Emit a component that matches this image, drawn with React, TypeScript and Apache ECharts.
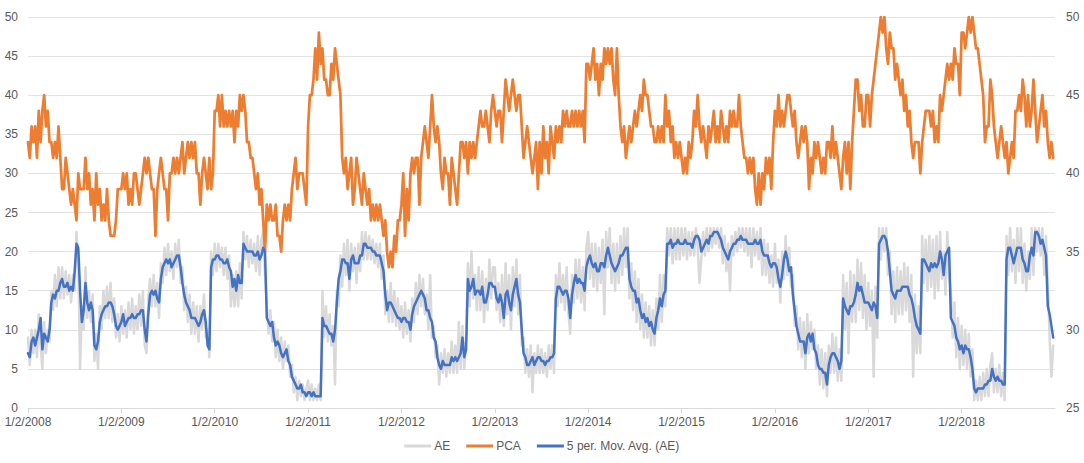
import React, { useEffect, useRef } from "react";
import * as echarts from "echarts";

// x tick labels (one per year, first trading day)
const xTickLabels = [
  "1/2/2008", "1/2/2009", "1/2/2010", "1/2/2011", "1/2/2012", "1/2/2013",
  "1/2/2014", "1/2/2015", "1/2/2016", "1/2/2017", "1/2/2018",
];

// AE (left axis), weekly readings per year
const ae2008 = [9,5.5,10,7,10,6.5,12,8,5,11,7,10,8.5,15,12.5,17,13,18,14,18,14,17.5,14.5,17,13.5,17,15,22.5,19,5,13,10,18,11.5,15,11,14.5,6,9.5,5,13,10,15,11.5,15.5,11.5,16,11,14,9,12,8.5];
const ae2009 = [13,9.5,12.5,9,13.5,10,14,9.5,13,10,14.5,10.5,15,8,7,14,16.5,13,17,13,16,11.5,18.5,16,20.5,17,21,17.5,20,16.5,21,18,21.5,16,18,12.5,15.5,11,14.5,9.5,13.5,9.5,13,8.5,13,10,14.5,9,10,6.5,20,17];
const ae2010 = [21,17.5,21,18,20.5,17,20.5,16.5,19.5,13,17,13,17.5,13,18.5,14,22.5,19,22,18,21.5,18.5,21,17.5,22,17,21.5,22.5,17,13.5,9.5,12.5,8.5,11,6.5,10,6,9,5,8.5,6,8,4,5.5,2,4,1,3.5,1.5,3,1,2.5];
const ae2011 = [3.5,1,3,1,2.5,1,3,1,15,9,13,8.5,12,8,10.5,3,15,13,19.5,15.5,21,17,21.5,15,21,17.5,20.5,16,21,17.5,22.5,19,22.5,19,22,19,21.5,18.5,21,18,21,16.5,19.5,12,15,11,16,11,15,10.5,14,10];
const ae2012 = [13,9,13.5,9.5,12.5,8.5,14,11,16,12,17,13,16.5,12,14.5,10,17,9,10.5,6.5,8,3,7,4.5,7.5,4,7,4.5,8.5,4.5,8,4.5,11,5,10.5,5,9,18.5,13,20,14,17,12.5,18,12.5,17.5,11,16.5,12.5,19,14,18];
const ae2013 = [18,12.5,16,11,17,10.5,18.5,12,17,10,18,13,19,12,17,8,9,4.5,7.5,4,8,2,7,4.5,8,4.5,7.5,4.5,7,4,8,5,8,4.5,17,13,18.5,13.5,17,12.5,18,12,9.5,17,13.5,19,14,19,13.5,18,12.5,20.5];
const ae2014 = [22.5,16.5,21,15.5,21,15,20.5,16,21.5,12,22.5,18,23,16,21,15,21,16,22,17,23,18,23,14,18.5,12.5,17.5,11,16.5,10,14.5,9,13.5,9,13,8,12.5,8,14,10,17,11,17,13,23,19.5,23,18.5,23,19,23,19];
const ae2015 = [23,19.5,23,19,22.5,19.5,22.5,19.5,23,20.5,16,19,22.5,19.5,23,20,23,20.5,23,21,23,20.5,23,18.5,22,17.5,21,15,22,19.5,22.5,20,23,20.5,23,20,23,19.5,23,18,23,19.5,22.5,19,23,17,21.5,17,21,16,19.5,15.5];
const ae2016 = [21,16,19,13.5,20,16.5,22,17,20.5,15.5,17,10.5,13,7.5,11.5,6.5,11,5,12,7,11,7.5,10,5,8,3,7.5,2.5,7,1.5,8,4.5,9.5,4.5,9,3.5,7.5,3.5,17,10,16,7,17.5,11,17,11,19,12.5,18.5,11.5,17,10];
const ae2017 = [16,10.5,15,4,15.5,9,23,19,23,20,23,17,20,12,17.5,11,18,12,17.5,12,18.5,12.5,18,11,17,4,14.5,7,13,7,22,16,21.5,15,22,15.5,21.5,14,22,15,22.5,16.5,20,14.5,22.5,17,15,9,13.5,6.5,11.5,5];
const ae2018 = [10.5,5.5,10,5,9.5,4,7.5,1,3.5,1,4,1,4.5,1.5,5,1.5,5.5,7,2,5,2,5.5,1.5,4.5,1,22,17,23,17.5,21.5,16,23,17.5,23,16,21,15,20,16.5,23,17,23,20,23,19.5,23,17,22,16,9,4,8];

// PCA (right axis), weekly readings per year
const pca2008 = [42,41,43,42,43,41,44,42,44,45,43,44,42,42,41,42,41,43,41,39,39,41,40,39,38,39,38,37,40,39,39,39,41,39,40,38,39,37,40,38,39,37,38,37,39,37,36,36,36,37,39,39];
const pca2009 = [39,40,39,40,38,39,38,40,40,39,38,39,40,41,40,41,40,39,39,36,39,40,41,40,39,39,37,40,40,41,40,41,40,41,42,40,41,42,41,42,41,42,40,40,38,40,41,40,39,41,39,40];
const pca2010 = [44,44,45,43,45,43,44,43,44,43,44,42,44,43,45,44,45,44,42,42,41,41,40,39,40,38,39,37,35,38,37,38,37,37,38,36,36,35,37,38,37,38,37,39,40,41,39,40,40,40,39,38];
const pca2011 = [43,45,45,46,48,46,49,47,48,46,46,45,45,47,46,48,47,46,45,41,40,41,39,40,41,38,39,41,40,39,38,40,39,38,39,37,38,37,38,37,38,37,36,37,35,34,35,34,36,35,37,37];
const pca2012 = [38,40,36,39,37,40,41,40,41,41,38,41,42,43,42,41,43,45,43,42,43,42,40,39,41,40,40,38,41,40,39,38,40,42,42,41,42,40,42,41,42,41,42,43,44,43,43,44,43,42,44,45];
const pca2013 = [44,43,44,44,42,44,46,45,44,45,46,45,44,45,45,43,41,42,43,42,41,40,41,42,39,42,40,43,41,42,40,43,42,41,43,42,43,42,44,43,44,43,43,44,43,44,43,44,43,44,42,47];
const pca2014 = [47,46,47,48,46,47,45,47,46,48,47,48,47,48,46,45,48,45,43,42,43,41,42,43,42,43,44,43,44,45,44,46,45,45,44,43,43,42,42,43,42,43,42,45,43,44,42,43,41,42,41,42];
const pca2015 = [41,40,41,40,42,41,42,44,43,45,43,42,43,42,41,43,42,43,44,42,43,42,44,43,42,43,42,44,43,44,43,43,45,43,42,41,41,40,41,40,41,39,38,40,38,40,39,41,40,41,39,42];
const pca2016 = [44,43,45,43,44,43,44,45,45,44,43,44,42,41,42,43,42,43,42,39,41,40,42,41,42,41,40,41,40,42,42,41,43,41,42,41,40,39,41,42,40,42,39,42,44,46,46,44,45,43,43,45];
const pca2017 = [45,43,45,46,47,48,49,50,49,50,48,47,49,48,48,46,47,46,45,46,44,45,43,44,42,41,42,42,42,40,42,43,44,44,44,43,44,42,43,42,45,44,45,46,47,46,47,46,48,47,47,45];
const pca2018 = [49,49,48,49,50,49,50,49,48,48,47,46,45,42,43,43,46,45,43,42,41,42,43,42,41,42,40,41,42,41,44,44,45,44,46,45,43,45,43,44,46,44,42,43,44,45,43,44,42,41,42,41];

// 5 per. Mov. Avg. (AE) (left axis), weekly readings per year
const ma2008 = [7,6.5,8.5,9,8,9,10,11.5,7.5,9.5,9,8.5,10,13.5,14.5,14,15,15,16,16.5,15.5,15.5,16,15,15.5,15,17.5,21,20.5,15,11,12.5,16,13.5,12.5,13.5,12.5,8,7.5,8.5,11,12,12.5,13,13,13.5,13.5,13,12,10.5,10,10.5];
const ma2009 = [11,12,10.5,11,11.5,11.5,12,11.5,11.5,12,12,12.5,12.5,10,8.5,12,14.5,15,14.5,15,14,13.5,16.5,18,18.5,19,18.5,19,18,18.5,19,19.5,19.5,18,16,14.5,13.5,13,12.5,11.5,11.5,11.5,11,10.5,11,12,12.5,11,8,7.5,18,19];
const ma2010 = [19,19.5,19.5,19,19,18.5,18.5,19,18,17.5,15.5,16.5,15,17,16,16,21,20.5,20,20,20,20,19.5,19.5,20,19,19.5,20.5,20,11.5,11,10.5,11,9,8,8.5,8,7,6.5,7,7.5,6,5.5,4,3.5,3,2.5,2.5,3,2,2,1.5];
const ma2011 = [2,2,1.5,2,1.5,1.5,1.5,1.5,11.5,10.5,10.5,10,9.5,9.5,8.5,10,13.5,16.5,17.5,19,19,18.5,18.5,16.5,19,19.5,18.5,18.5,18.5,19.5,19.5,21,21,20.5,20.5,20.5,20,20,19.5,19.5,19.5,18.5,17.5,14.5,12.5,13.5,13.5,13,12.5,12,11.5,11.5];
const ma2012 = [11,11.5,11.5,11,11,10,12,13,13.5,14,14.5,15,14.5,14,12.5,12.5,11.5,11,9,8.5,6.5,5.5,5,6,5.5,5.5,5.5,5.5,6.5,6,6.5,6,6.5,7,9,6.5,7.5,16.5,15,15.5,16.5,14.5,15,15,14.5,15.5,13.5,13.5,14.5,16,16,15.5];
const ma2013 = [15.5,14,13.5,14.5,13.5,11.5,14.5,15,13.5,12.5,14.5,15.5,16.5,14.5,13.5,10,7,6.5,5.5,5.5,6,6.5,5.5,6,6.5,6.5,6,6,5.5,6,6,6.5,6.5,7,14,15.5,15.5,15,14.5,15,15,14,11.5,14.5,16,17,16,16.5,16,16,15,18];
const ma2014 = [19,19.5,18.5,18,18.5,17.5,17.5,18.5,18.5,18,19.5,20.5,19.5,18.5,18,17.5,18,18.5,19.5,19.5,20,20.5,20.5,16.5,15.5,15,15,13.5,14,12.5,11.5,12,11,11.5,10.5,11,10,9.5,11.5,12.5,14,13,14.5,15,21,21,21.5,20.5,21,21,21.5,21];
const ma2015 = [21,21,21.5,21,21,21,20.5,21.5,22,22,21.5,20,20.5,21,21.5,21,22,22,22.5,22.5,22.5,22,21.5,20.5,20,19.5,19,20,20.5,21,21,21.5,21.5,22,21.5,21.5,21.5,21,21,21,21,21.5,21,21,21.5,20,19.5,19.5,19.5,18.5,18,18.5];
const ma2016 = [18.5,18,16.5,15.5,17,19,20,19,17.5,18,14.5,12.5,10.5,9.5,8.5,8.5,8.5,7,9,9.5,8.5,9.5,7.5,7,5.5,5,5,4.5,4.5,3,5.5,6.5,7,7,6.5,6,5,6,14,13,12.5,12,13,13,13.5,14.5,16,15,15.5,14.5,13.5,13.5];
const ma2017 = [13.5,13,12.5,13.5,13,11.5,21,21.5,22,22,21.5,20,17.5,15,14.5,14,15,15,15,15.5,15.5,15.5,15.5,14.5,14,13,11.5,10.5,10,9.5,19,19,18.5,18,17.5,18.5,18,18.5,18,18.5,20,19,17,19.5,20,20.5,11.5,11,10.5,9,8.5,7.5];
const ma2018 = [8,7,8,7.5,7.5,6.5,5,2.5,2,2.5,2.5,2.5,2.5,3,3,3.5,3.5,5,4,3.5,4,3.5,3.5,3,3,19,20.5,20.5,19.5,18.5,19.5,20.5,20.5,20.5,19,18.5,17.5,17.5,19.5,20.5,19.5,22.5,22.5,22,21,21.5,20.5,19.5,13,12,10.5,9];

const aeYears = [ae2008, ae2009, ae2010, ae2011, ae2012, ae2013, ae2014, ae2015, ae2016, ae2017, ae2018];
const pcaYears = [pca2008, pca2009, pca2010, pca2011, pca2012, pca2013, pca2014, pca2015, pca2016, pca2017, pca2018];
const maYears = [ma2008, ma2009, ma2010, ma2011, ma2012, ma2013, ma2014, ma2015, ma2016, ma2017, ma2018];

// weekly samples: x = years since 1/2/2008
const toPoints = (years: number[][]) =>
  years.flatMap((vals, y) => vals.map((v, w) => [y + w / vals.length, v]));

const FONT = "'Liberation Sans', Arial, sans-serif";
const LABEL = "#595959";

export default function App() {
  const ref = useRef<HTMLDivElement>(null);
  useEffect(() => {
    if (!ref.current) return;
    const chart = echarts.init(ref.current, undefined, { renderer: "svg" });
    const lineCommon = {
      type: "line" as const,
      symbol: "none",
      showSymbol: false,
      animation: false,
    };
    chart.setOption({
      animation: false,
      textStyle: { fontFamily: FONT },
      grid: { left: 28, right: 29, top: 17, bottom: 55, containLabel: false, outerBoundsMode: "none" },
      legend: {
        bottom: 6,
        left: "center",
        icon: "rect",
        itemWidth: 27,
        itemHeight: 3,
        itemGap: 16,
        textStyle: { color: LABEL, fontSize: 12, fontFamily: FONT, padding: [0, 0, 0, -2] },
        data: ["AE", "PCA", "5 per. Mov. Avg. (AE)"],
      },
      xAxis: {
        type: "value",
        min: 0,
        max: 11,
        interval: 1,
        axisLine: { show: true, lineStyle: { color: "#d9d9d9", width: 1 } },
        axisTick: { show: true, length: 5, lineStyle: { color: "#d9d9d9" } },
        splitLine: { show: false },
        axisLabel: {
          color: LABEL,
          fontSize: 12,
          fontFamily: FONT,
          margin: 8,
          showMaxLabel: false,
          formatter: (v: number) => xTickLabels[Math.round(v)] ?? "",
        },
      },
      yAxis: [
        {
          type: "value",
          min: 0,
          max: 50,
          interval: 5,
          axisLine: { show: false },
          axisTick: { show: false },
          splitLine: { show: true, lineStyle: { color: "#e3e3e3", width: 1 } },
          axisLabel: { color: LABEL, fontSize: 12, fontFamily: FONT, margin: 10 },
        },
        {
          type: "value",
          min: 25,
          max: 50,
          interval: 5,
          position: "right",
          axisLine: { show: false },
          axisTick: { show: false },
          splitLine: { show: false },
          axisLabel: { color: LABEL, fontSize: 12, fontFamily: FONT, margin: 11 },
        },
      ],
      series: [
        {
          ...lineCommon,
          name: "AE",
          yAxisIndex: 0,
          data: toPoints(aeYears),
          itemStyle: { color: "#d9d9d9" },
          lineStyle: { color: "#d9d9d9", width: 2.5, join: "round", cap: "round" },
          z: 1,
        },
        {
          ...lineCommon,
          name: "PCA",
          yAxisIndex: 1,
          data: toPoints(pcaYears),
          itemStyle: { color: "#ed7d31" },
          lineStyle: { color: "#ed7d31", width: 2.75, join: "round", cap: "round" },
          z: 2,
        },
        {
          ...lineCommon,
          name: "5 per. Mov. Avg. (AE)",
          yAxisIndex: 0,
          data: toPoints(maYears),
          itemStyle: { color: "#4472c4" },
          lineStyle: { color: "#4472c4", width: 2.5, join: "round", cap: "round" },
          z: 3,
        },
      ],
    });
    return () => chart.dispose();
  }, []);
  return (
    <div
      ref={ref}
      style={{ position: "fixed", left: 0, top: 0, width: 1084, height: 463, background: "#fff" }}
    />
  );
}
